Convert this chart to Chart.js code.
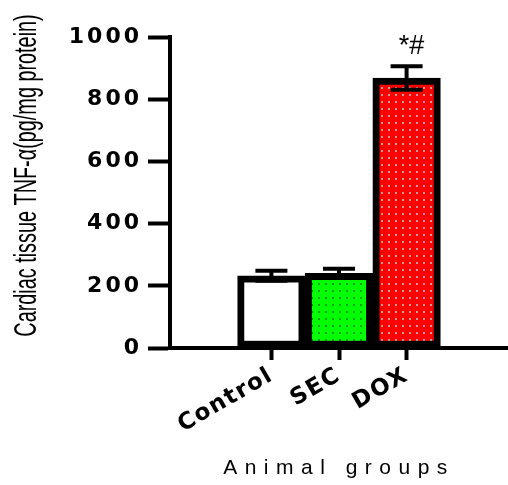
<!DOCTYPE html>
<html>
<head>
<meta charset="utf-8">
<script src="https://cdn.jsdelivr.net/npm/chart.js@4/dist/chart.umd.min.js"></script>
<style>
  html, body { margin: 0; padding: 0; background: #fff; }
  #wrap { width: 508px; height: 485px; }
</style>
</head>
<body>
<div id="wrap"><canvas id="tnfChart"></canvas></div>
<script>
const groups = ['Control', 'SEC', 'DOX'];
const tnfMeans = [232, 240, 868];
const tnfErrors = [16, 15, 38];
const marks = ['', '', '*#'];
const yTicks = [0, 200, 400, 600, 800, 1000];

// dotted fills like the prism pattern
function dotPattern(bg, dot) {
  const c = document.createElement('canvas');
  c.width = 7;
  c.height = 7;
  const g = c.getContext('2d');
  g.fillStyle = bg;
  g.fillRect(0, 0, 7, 7);
  g.fillStyle = dot;
  g.fillRect(3, 3, 2, 2);
  return g.createPattern(c, 'repeat');
}

const fills = ['#ffffff', dotPattern('#00ff00', '#00a000'), dotPattern('#ff0000', '#c89a9a')];

// empty slots on both sides so the bars sit where they do in the figure
const labels = ['', ...groups, ''];
const values = [null, ...tnfMeans, null];
const colors = ['#fff', ...fills, '#fff'];

// the figure's axis text is spread out, so draw some of it with letter spacing
function spaced(scale, method, px) {
  if (scale['_sp_' + method]) return;
  const orig = scale[method];
  scale[method] = function (...args) {
    const ctx = this.ctx;
    const prev = ctx.letterSpacing;
    ctx.letterSpacing = px;
    orig.apply(this, args);
    ctx.letterSpacing = prev;
  };
  scale['_sp_' + method] = true;
}

// y title is tall and condensed in the figure, and sits a bit high
function squeezeTitle(scale, factor, shift) {
  if (scale._squeezed) return;
  const orig = scale.drawTitle;
  scale.drawTitle = function () {
    const ctx = this.ctx;
    const mid = (this.top + this.bottom) / 2;
    ctx.save();
    ctx.translate(0, mid + shift);
    ctx.scale(1, factor);
    ctx.translate(0, -mid);
    orig.call(this);
    ctx.restore();
  };
  scale._squeezed = true;
}

const errorBars = {
  id: 'errorBars',
  beforeDraw(chart) {
    spaced(chart.scales.y, 'drawLabels', '3px');
    spaced(chart.scales.x, 'drawLabels', '1.5px');
    spaced(chart.scales.x, 'drawTitle', '7.5px');
    squeezeTitle(chart.scales.y, 0.62, -17);
  },
  afterDatasetsDraw(chart) {
    const { ctx, scales: { y } } = chart;
    const bars = chart.getDatasetMeta(0).data;
    ctx.save();
    ctx.strokeStyle = '#000';
    ctx.lineWidth = 4;
    groups.forEach((g, i) => {
      const bar = bars[i + 1];
      const hi = y.getPixelForValue(tnfMeans[i] + tnfErrors[i]);
      const lo = y.getPixelForValue(tnfMeans[i] - tnfErrors[i]);
      ctx.beginPath();
      ctx.moveTo(bar.x, hi);
      ctx.lineTo(bar.x, lo);
      ctx.moveTo(bar.x - 16, hi);
      ctx.lineTo(bar.x + 16, hi);
      ctx.moveTo(bar.x - 16, lo);
      ctx.lineTo(bar.x + 16, lo);
      ctx.stroke();
      if (marks[i]) {
        ctx.font = '27px "Liberation Sans"';
        ctx.fillStyle = '#000';
        ctx.textAlign = 'center';
        ctx.textBaseline = 'bottom';
        ctx.fillText(marks[i], bar.x + 5, hi - 6);
      }
    });
    ctx.restore();
  }
};

new Chart(document.getElementById('tnfChart'), {
  type: 'bar',
  data: {
    labels: labels,
    datasets: [{
      data: values,
      backgroundColor: colors,
      borderColor: '#000',
      borderWidth: 7,
      borderSkipped: false,
      categoryPercentage: 1,
      barPercentage: 1
    }]
  },
  options: {
    responsive: true,
    maintainAspectRatio: false,
    animation: false,
    layout: { padding: { top: 37, right: 0, bottom: 0, left: 0 } },
    plugins: {
      legend: { display: false },
      tooltip: { enabled: false }
    },
    scales: {
      x: {
        afterFit: s => { s.height = 137; },
        grid: {
          offset: false,
          drawOnChartArea: false,
          tickLength: 12,
          tickWidth: 4,
          tickColor: ctx => (labels[ctx.index] ? '#000' : 'rgba(0,0,0,0)')
        },
        border: { color: '#000', width: 4 },
        ticks: {
          autoSkip: false,
          minRotation: 30,
          maxRotation: 30,
          padding: 2,
          color: '#000',
          font: { family: 'DejaVu Sans', weight: 'bold', size: 23 }
        },
        title: {
          display: true,
          text: 'Animal groups',
          color: '#000',
          padding: { top: 5 },
          font: { family: 'Liberation Sans', size: 21 }
        }
      },
      y: {
        min: 0,
        max: 1000,
        afterFit: s => { s.width = 170; },
        afterBuildTicks: s => { s.ticks = yTicks.map(v => ({ value: v })); },
        grid: {
          drawOnChartArea: false,
          tickLength: 22,
          tickWidth: 4,
          tickColor: '#000'
        },
        border: { color: '#000', width: 4 },
        ticks: {
          padding: 6,
          color: '#000',
          callback: v => String(v),
          font: { family: 'DejaVu Sans', weight: 'bold', size: 22 }
        },
        title: {
          display: true,
          text: 'Cardiac tissue TNF-α(pg/mg protein)',
          color: '#000',
          padding: { top: 8 },
          font: { family: 'Liberation Sans', size: 32 }
        }
      }
    }
  },
  plugins: [errorBars]
});
</script>
</body>
</html>
